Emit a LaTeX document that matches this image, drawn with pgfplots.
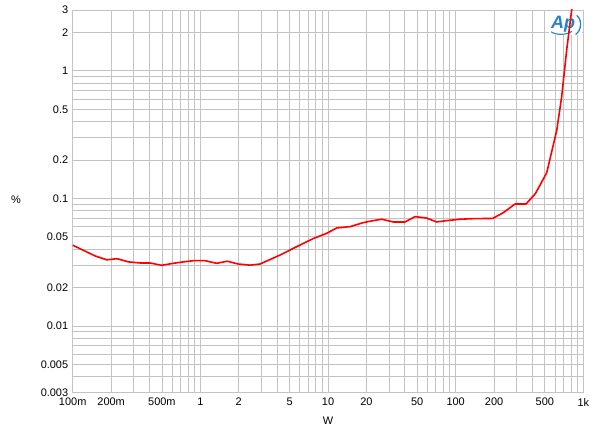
\documentclass[border=0pt]{standalone}
\usepackage{fontspec}
\setmainfont{Liberation Sans}
\usepackage{pgfplots}
\pgfplotsset{compat=1.18}

\definecolor{gridgray}{RGB}{195,195,195}
\definecolor{apblue}{RGB}{40,130,200}

\begin{document}
\begin{tikzpicture}[x=1bp,y=1bp]
\useasboundingbox (-72.7,-48.3) rectangle (527.3,392.7);
\begin{axis}[
    at={(0,0)}, anchor=south west,
    scale only axis,
    width=510.6bp, height=382.7bp,
    xmode=log, ymode=log,
    xmin=0.1, xmax=1000,
    ymin=0.003, ymax=3,
    xtick={0.1,0.2,0.5,1,2,5,10,20,50,100,200,500,1000},
    xticklabels={100m,200m,500m,1,2,5,10,20,50,100,200,500,1k},
    minor xtick={0.3,0.4,0.6,0.7,0.8,0.9,3,4,6,7,8,9,30,40,60,70,80,90,300,400,600,700,800,900},
    ytick={0.003,0.005,0.01,0.02,0.05,0.1,0.2,0.5,1,2,3},
    yticklabels={0.003,0.005,0.01,0.02,0.05,0.1,0.2,0.5,1,2,3},
    minor ytick={0.004,0.006,0.007,0.008,0.009,0.03,0.04,0.06,0.07,0.08,0.09,0.3,0.4,0.6,0.7,0.8,0.9},
    grid=both,
    major grid style={gridgray, line width=0.8bp},
    minor grid style={gridgray, line width=0.8bp},
    axis line style={gridgray, line width=0.8bp},
    major tick length=0pt, minor tick length=0pt,
    tick label style={font=\fontsize{11}{13}\selectfont, text=black},
    xticklabel style={yshift=-2bp},
    yticklabel style={xshift=-1bp},
    /pgf/number format/assume math mode=true,
    xlabel={W},
    ylabel={\%},
    label style={font=\fontsize{11}{13}\selectfont},
    xlabel style={at={(axis description cs:0.5,-0.073)}, anchor=center},
    ylabel style={at={(axis description cs:-0.111,0.504)}, anchor=center, rotate=-90},
]
% Ap logo (under the curve)
\fill[white] (axis description cs:0.933,0.934) rectangle (axis description cs:0.998,0.997);
\node[text=apblue, font=\fontsize{18}{18}\selectfont\bfseries\itshape]
  at (axis description cs:0.9603,0.9634) {Ap};
\draw[apblue, line width=1.3bp] (axis description cs:0.9870,0.986)
  .. controls (axis description cs:0.9975,0.975) and (axis description cs:0.9975,0.948)
  .. (axis description cs:0.9850,0.936);
\draw[apblue, line width=1.1bp] (axis description cs:0.9370,0.943)
  .. controls (axis description cs:0.947,0.934) and (axis description cs:0.966,0.934)
  .. (axis description cs:0.978,0.944);
\addplot[red, line width=1.6bp, line join=round] coordinates {
(0.1,0.043) (0.15,0.0354) (0.185,0.033) (0.223,0.0337) (0.273,0.0318)
(0.337,0.0312) (0.403,0.0312) (0.498,0.0299) (0.614,0.031) (0.735,0.0318)
(0.881,0.0325) (1.087,0.0325) (1.343,0.031) (1.626,0.0322) (1.98,0.0306)
(2.45,0.030) (2.93,0.0306) (4.21,0.036) (5.69,0.0419) (7.68,0.0485)
(9.77,0.0533) (11.7,0.0587) (14.9,0.0601) (18.9,0.0646) (22.6,0.067)
(26.4,0.0687) (32.5,0.0654) (40.1,0.0654) (48.1,0.072) (58.7,0.0703)
(71.1,0.0654) (85.2,0.067) (108,0.0687) (137,0.0694) (195,0.0697)
(236,0.0773) (292,0.0905) (356,0.0905) (421,0.109) (517,0.159)
(620,0.344) (677,0.628) (741,1.46) (811,3.0) (830,3.8)
};
\end{axis}
\end{tikzpicture}
\end{document}
